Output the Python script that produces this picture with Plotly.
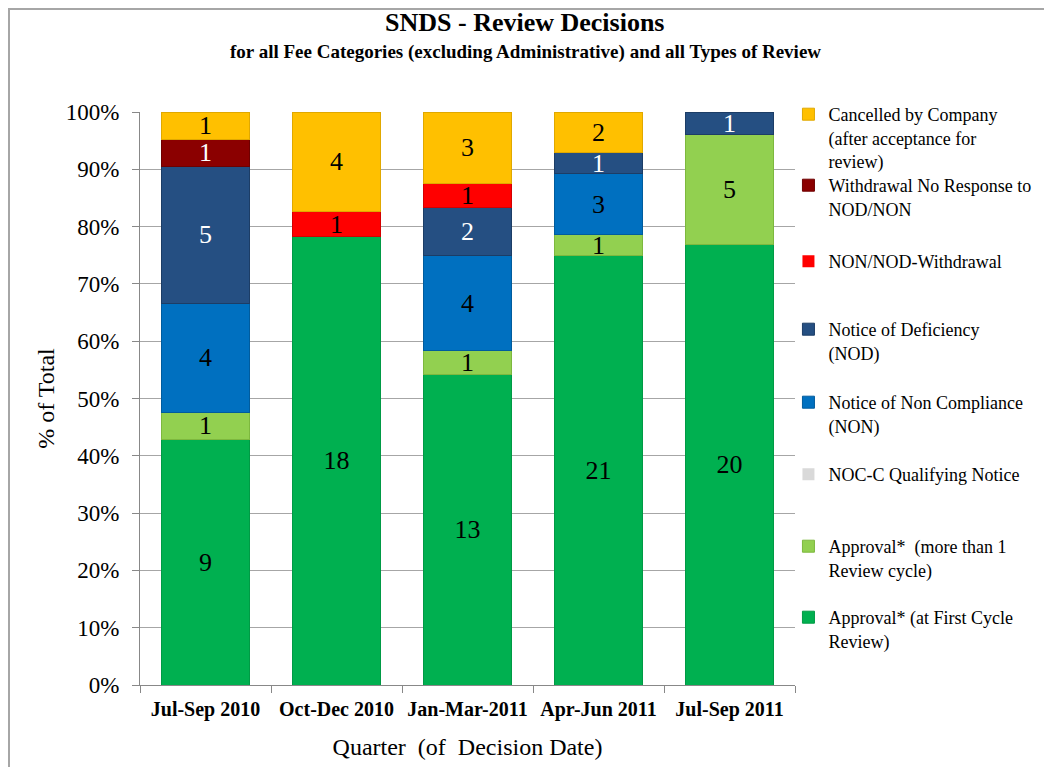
import plotly.graph_objects as go

quarters = ["Jul-Sep 2010", "Oct-Dec 2010", "Jan-Mar-2011", "Apr-Jun 2011", "Jul-Sep 2011"]

approval_first = [9, 18, 13, 21, 20]
approval_more = [1, 0, 1, 1, 5]
noc_c = [0, 0, 0, 0, 0]
non = [4, 0, 4, 3, 0]
nod = [5, 0, 2, 1, 1]
non_nod_withdrawal = [0, 1, 1, 0, 0]
withdrawal_no_response = [1, 0, 0, 0, 0]
cancelled = [1, 4, 3, 2, 0]

series_names = [
    "Approval* (at First Cycle<br>Review)",
    "Approval*  (more than 1<br>Review cycle)",
    "NOC-C Qualifying Notice",
    "Notice of Non Compliance<br>(NON)",
    "Notice of Deficiency<br>(NOD)",
    "NON/NOD-Withdrawal",
    "Withdrawal No Response to<br>NOD/NON",
    "Cancelled by Company<br>(after acceptance for<br>review)",
]
series_values = [approval_first, approval_more, noc_c, non, nod,
                 non_nod_withdrawal, withdrawal_no_response, cancelled]
series_colors = ["#00B050", "#92D050", "#D9D9D9", "#0070C0", "#254F82",
                 "#FF0000", "#8B0000", "#FFC000"]
edge_colors = ["#009A45", "#7DB83E", "#BFBFBF", "#005C9E", "#1C3D66",
               "#D40000", "#6E0000", "#E0A800"]
text_colors = ["black", "black", "black", "black", "white", "black", "white", "black"]

# page y (px) of the first text line of each legend entry, same order as series
legend_line_y = [618, 547, 475, 403, 330, 262, 186, 115]

SERIF = "Liberation Serif"
PLOT_TOP, PLOT_BOTTOM = 112, 685
PLOT_H = PLOT_BOTTOM - PLOT_TOP

fig = go.Figure()
layout_legends = {}
for i, (name, vals, color, edge, tcolor) in enumerate(
        zip(series_names, series_values, series_colors, edge_colors, text_colors)):
    lg = "legend" if i == 0 else f"legend{i + 1}"
    fig.add_trace(go.Bar(
        x=quarters, y=vals, name=name, legend=lg, showlegend=True,
        marker=dict(color=color, line=dict(color=edge, width=[1 if v else 0 for v in vals])),
        text=[str(v) if v else "" for v in vals],
        textposition="inside", insidetextanchor="middle",
        textangle=0, constraintext="none",
        textfont=dict(family=SERIF, size=26, color=tcolor),
        hoverinfo="skip",
    ))
    top_px = legend_line_y[i] - 19
    layout_legends[lg] = dict(
        x=0.99, xanchor="left", y=(PLOT_BOTTOM - top_px) / PLOT_H, yanchor="top",
        font=dict(family=SERIF, size=18, color="black"),
        valign="top", itemwidth=30, bgcolor="rgba(0,0,0,0)",
    )

# page has an 8px body margin, so the figure is sized to fit the window
fig.update_layout(
    width=1044, height=759,
    showlegend=True,
    barmode="stack", barnorm="percent", bargap=0.33,
    paper_bgcolor="white", plot_bgcolor="white",
    margin=dict(l=132, r=257, t=104, b=82),
    font=dict(family=SERIF, color="black"),
    xaxis=dict(
        type="category", tickson="boundaries", ticks="outside", ticklen=7,
        tickcolor="#888888", showline=True, linecolor="#888888", linewidth=1,
        tickfont=dict(family=SERIF, size=20, color="black"),
        ticklabelstandoff=6,
        tickprefix="<b>", ticksuffix="</b>",
        title=dict(text="Quarter  (of  Decision Date)", standoff=18,
                   font=dict(family=SERIF, size=24, color="black")),
    ),
    yaxis=dict(
        range=[0, 100], dtick=10, ticksuffix="%", ticks="outside", ticklen=7,
        tickcolor="#888888", showline=True, linecolor="#888888", linewidth=1,
        showgrid=True, gridcolor="#A6A6A6", gridwidth=1,
        tickfont=dict(family=SERIF, size=23, color="black"),
        ticklabelstandoff=8,
        title=dict(text="% of Total", standoff=4,
                   font=dict(family=SERIF, size=24, color="black")),
    ),
    annotations=[
        dict(text="<b>SNDS - Review Decisions</b>", xref="paper", yref="paper",
             x=0.588, y=1.157, xanchor="center", yanchor="middle", showarrow=False,
             font=dict(family=SERIF, size=26, color="black")),
        dict(text="<b>for all Fee Categories (excluding Administrative) and all Types of Review</b>",
             xref="paper", yref="paper",
             x=0.588, y=1.105, xanchor="center", yanchor="middle", showarrow=False,
             font=dict(family=SERIF, size=19, color="black")),
    ],
    **layout_legends,
)

# chart frame (top and left edges visible, as in the reference)
fig.add_shape(type="rect", xref="paper", yref="paper",
              x0=-0.2, x1=1.45, y0=-0.2, y1=1.1798,
              line=dict(color="#A6A6A6", width=2), fillcolor="rgba(0,0,0,0)", layer="below")

fig.write_html("out.html")
